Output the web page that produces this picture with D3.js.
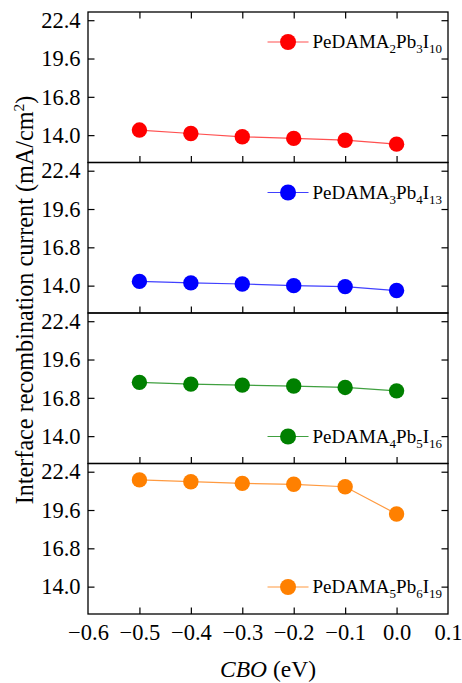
<!DOCTYPE html>
<html>
<head>
<meta charset="utf-8">
<script src="https://cdn.jsdelivr.net/npm/d3@7"></script>
<style>
  html, body { margin: 0; padding: 0; background: #fff; }
  svg { display: block; font-family: "Liberation Serif", "Times New Roman", serif; }
</style>
</head>
<body>
<svg id="chart" width="462" height="683"></svg>
<script>
// CBO offsets (eV) shared by every panel
const cbo = [-0.5, -0.4, -0.3, -0.2, -0.1, 0.0];

// Interface recombination current (mA/cm^2) for each composition
const currentN3 = [14.37, 14.12, 13.88, 13.76, 13.63, 13.34];
const currentN4 = [14.31, 14.20, 14.12, 14.00, 13.93, 13.64];
const currentN5 = [17.93, 17.80, 17.73, 17.66, 17.56, 17.31];
const currentN6 = [21.80, 21.67, 21.55, 21.48, 21.30, 19.31];

// Legend labels: [text, subscript] pieces
const labelN3 = [["PeDAMA", "2"], ["Pb", "3"], ["I", "10"]];
const labelN4 = [["PeDAMA", "3"], ["Pb", "4"], ["I", "13"]];
const labelN5 = [["PeDAMA", "4"], ["Pb", "5"], ["I", "16"]];
const labelN6 = [["PeDAMA", "5"], ["Pb", "6"], ["I", "19"]];

const colors = ["#ff0000", "#0000ff", "#008000", "#ff8000"];
const lineColors = ["#ff5050", "#4040ff", "#40a040", "#ff9a40"];

const xTicks = [-0.6, -0.5, -0.4, -0.3, -0.2, -0.1, 0.0, 0.1];
const yTicks = [14.0, 16.8, 19.6, 22.4];

const panels = [
  { values: currentN3, label: labelN3, legendPos: "top" },
  { values: currentN4, label: labelN4, legendPos: "top" },
  { values: currentN5, label: labelN5, legendPos: "bottom" },
  { values: currentN6, label: labelN6, legendPos: "bottom" }
];

const svg = d3.select("#chart");
const plotLeft = 88, plotRight = 448, plotTop = 12, panelH = 150.5;
const serif = "'Liberation Serif', 'Times New Roman', serif";

const x = d3.scaleLinear().domain([-0.6, 0.1]).range([plotLeft, plotRight]);
const fmt = d => (d < 0 ? "\u2212" : "") + Math.abs(d).toFixed(1);
const tickLen = 6.5;

// Draw tick marks only (no labels, no domain line)
function tickOnly(sel, axis) {
  sel.call(axis);
  sel.select(".domain").remove();
  sel.selectAll("text").remove();
  sel.selectAll("line").attr("stroke", "#000").attr("stroke-width", 1.2);
}

panels.forEach((p, i) => {
  const y0 = plotTop + i * panelH;
  const y = d3.scaleLinear().domain([12, 23]).range([y0 + panelH, y0]);
  const g = svg.append("g");

  // Left axis: inward ticks with labels
  const yAxisL = d3.axisLeft(y).tickValues(yTicks).tickFormat(d => d.toFixed(1))
    .tickSizeInner(-tickLen).tickSizeOuter(0).tickPadding(7.5);
  const gl = g.append("g").attr("transform", `translate(${plotLeft},0)`).call(yAxisL);
  gl.select(".domain").remove();
  gl.selectAll("text").attr("font-size", 22.5).attr("fill", "#000").attr("font-family", serif);
  gl.selectAll("line").attr("stroke", "#000").attr("stroke-width", 1.2);

  // Right axis: inward ticks
  tickOnly(g.append("g").attr("transform", `translate(${plotRight},0)`),
    d3.axisRight(y).tickValues(yTicks).tickSizeInner(-tickLen).tickSizeOuter(0));

  // Bottom ticks pointing inward
  tickOnly(g.append("g").attr("transform", `translate(0,${y0 + panelH})`),
    d3.axisBottom(x).tickValues(xTicks.slice(1, -1)).tickSizeInner(-tickLen).tickSizeOuter(0));

  if (i === 0) {
    tickOnly(g.append("g").attr("transform", `translate(0,${y0})`),
      d3.axisTop(x).tickValues(xTicks.slice(1, -1)).tickSizeInner(-tickLen).tickSizeOuter(0));
  }

  // Panel frame
  g.append("rect").attr("x", plotLeft).attr("y", y0).attr("width", plotRight - plotLeft).attr("height", panelH)
    .attr("fill", "none").attr("stroke", "#000").attr("stroke-width", 1.3);

  // Series line and markers
  const pts = cbo.map((c, k) => [c, p.values[k]]);
  g.append("path").datum(pts)
    .attr("d", d3.line().x(d => x(d[0])).y(d => y(d[1])))
    .attr("fill", "none").attr("stroke", lineColors[i]).attr("stroke-width", 1.2);
  g.selectAll("circle.pt").data(pts).join("circle").attr("class", "pt")
    .attr("cx", d => x(d[0])).attr("cy", d => y(d[1])).attr("r", 7.7)
    .attr("fill", colors[i]);

  // Legend
  const ly = p.legendPos === "top" ? y0 + 30 : y0 + panelH - 27;
  const txt = g.append("text").attr("x", plotRight - 6).attr("y", ly + 6)
    .attr("text-anchor", "end").attr("font-size", 19).attr("fill", "#000");
  p.label.forEach(([base, sub], k) => {
    txt.append("tspan").attr("dy", k === 0 ? 0 : -5).text(base);
    txt.append("tspan").attr("font-size", 13).attr("dy", 5).text(sub);
  });
  const tb = txt.node().getBBox();
  const lx1 = tb.x - 4, lx0 = lx1 - 41;
  g.append("line").attr("x1", lx0).attr("x2", lx1).attr("y1", ly).attr("y2", ly)
    .attr("stroke", lineColors[i]).attr("stroke-width", 1.2);
  g.append("circle").attr("cx", (lx0 + lx1) / 2).attr("cy", ly).attr("r", 8).attr("fill", colors[i]);
});

// Bottom x-axis labels
const bottomY = plotTop + 4 * panelH;
const xAxis = d3.axisBottom(x).tickValues(xTicks).tickFormat(fmt).tickSize(0).tickPadding(10.5);
const gx = svg.append("g").attr("transform", `translate(0,${bottomY})`).call(xAxis);
gx.select(".domain").remove();
gx.selectAll("text").attr("font-size", 22.5).attr("fill", "#000").attr("font-family", serif);

// Axis titles
const xt = svg.append("text").attr("x", (plotLeft + plotRight) / 2).attr("y", 677)
  .attr("text-anchor", "middle").attr("font-size", 23.5);
xt.append("tspan").attr("font-style", "italic").text("CBO");
xt.append("tspan").text(" (eV)");

const yt = svg.append("text")
  .attr("transform", `translate(33,300) rotate(-90)`)
  .attr("text-anchor", "middle").attr("font-size", 24.2);
yt.append("tspan").text("Interface recombination current (mA/cm");
yt.append("tspan").attr("font-size", 15.5).attr("dy", -9.5).text("2");
yt.append("tspan").attr("dy", 9.5).text(")");
</script>
</body>
</html>
